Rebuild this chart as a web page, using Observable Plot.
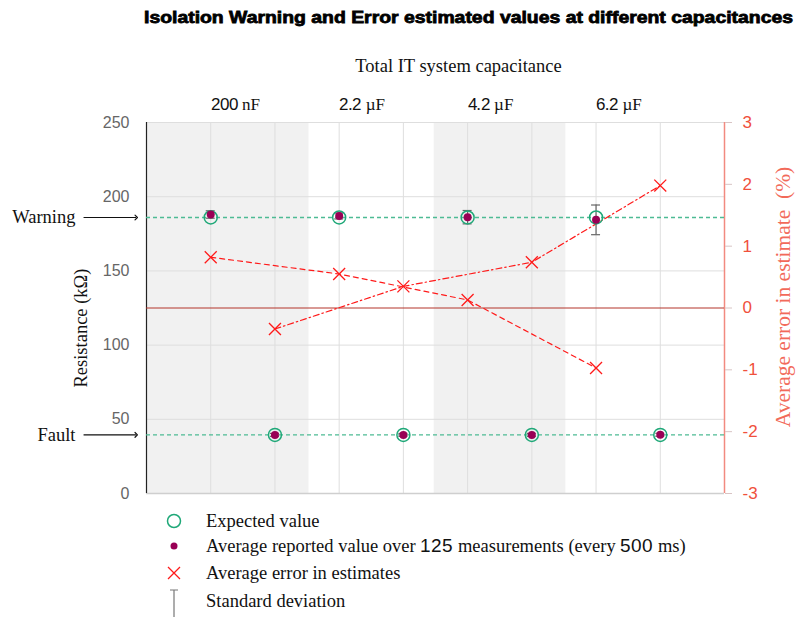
<!DOCTYPE html>
<html>
<head>
<meta charset="utf-8">
<script src="https://cdn.jsdelivr.net/npm/d3@7"></script>
<script src="https://cdn.jsdelivr.net/npm/@observablehq/plot@0.6"></script>
<style>
@font-face { font-family: "SerifMix"; src: local("Liberation Sans"), local("LiberationSans"); unicode-range: U+0030-0039; }
body { margin: 0; background: white; }
#wrap { position: relative; width: 796px; height: 617px; overflow: hidden; }
#chart { position: absolute; left: 0; top: 0; }
#title { position: absolute; left: 0; top: 0; overflow: visible; }
#legend { position: absolute; left: 0; top: 505px; }
</style>
</head>
<body>
<div id="wrap">
  <div id="chart"></div>
  <svg id="title" width="796" height="34"></svg>
  <svg id="legend" width="796" height="112"></svg>
</div>
<script>
// ---------- data ----------
const titleText = "Isolation Warning and Error estimated values at different capacitances";
const xTitle = "Total IT system capacitance";
const yTitle = "Resistance (kΩ)";
const y2Title = "Average error in estimate  (%)";

const groupLabels = ["200 nF", "2.2 µF", "4.2 µF", "6.2 µF"];
const groupFirst = [1, 3, 5, 7];
const groupShaded = [true, false, true, false];

const positions = [1, 2, 3, 4, 5, 6, 7, 8];
const level = ["Warning", "Fault", "Warning", "Fault", "Warning", "Fault", "Warning", "Fault"];
const expectedKOhm = [186, 39.5, 186, 39.5, 186, 39.5, 186, 39.5];
const reportedKOhm = [188, 39.5, 187, 39.5, 186.2, 39.5, 184.4, 39.6];
const stdDevKOhm = [2.5, 1, 2, 1, 4.5, 1, 10, 1];
const errorPct = [0.82, -0.34, 0.55, 0.35, 0.13, 0.74, -0.97, 1.98];

const thresholdNames = ["Warning", "Fault"];
const thresholdKOhm = [186, 39.5];

const leftTicks = [0, 50, 100, 150, 200, 250];
const rightTicks = [3, 2, 1, 0, -1, -2, -3];

const legendLabels = [
  "Expected value",
  "Average reported value over 125 measurements (every 500 ms)",
  "Average error in estimates",
  "Standard deviation"
];

// ---------- derived tables ----------
const toRes = e => 125 + e * 125 / 3;   // map % error onto resistance scale (±3% ↔ 0..250)
const rows = positions.map((p, i) => ({
  pos: p, level: level[i], expected: expectedKOhm[i], reported: reportedKOhm[i],
  sd: stdDevKOhm[i], err: errorPct[i]
}));
const groups = groupLabels.map((label, g) => ({label, first: groupFirst[g], shaded: groupShaded[g], g}));
const thresholds = thresholdNames.map((name, i) => ({name, value: thresholdKOhm[i]}));

const SERIF = "SerifMix, 'Liberation Serif', 'Times New Roman', serif";
const SANS = "'Liberation Sans', Arial, sans-serif";
const RED = "#ff1a1a";
const GREEN = "#1fa878";
const GREENLINE = "#4dbb94";
const PURPLE = "#990055";

const chart = Plot.plot({
  width: 796,
  height: 505,
  marginLeft: 146,
  marginRight: 72,
  marginTop: 122,
  marginBottom: 12,
  style: {background: "transparent", fontFamily: SANS, overflow: "visible"},
  x: {domain: [0, 9], axis: null},
  y: {domain: [0, 250], axis: null},
  marks: [
    // shaded capacitance groups
    Plot.rect(groups.filter(d => d.shaded), {
      x1: d => d.g === 0 ? 0 : d.first - 0.52,
      x2: d => d.first + 1.53,
      y1: 0, y2: 250, fill: "#f1f1f1"
    }),
    Plot.gridX(positions, {stroke: "#dedede", strokeOpacity: 1}),
    Plot.gridY(leftTicks.filter(t => t > 0), {stroke: "#dedede", strokeOpacity: 1}),
    Plot.ruleY([0], {stroke: "#cfcfcf", strokeWidth: 1.5}),
    Plot.ruleX([0], {stroke: "#222", strokeWidth: 1.2}),
    Plot.ruleX([9], {stroke: "#f28a80", strokeWidth: 1.5}),
    // zero error line
    Plot.ruleY([0], {y: d => toRes(d), stroke: "#b3342a", strokeWidth: 1}),
    // expected threshold lines
    Plot.ruleY(thresholds, {y: "value", stroke: GREENLINE, strokeWidth: 1.4, strokeDasharray: "4,3"}),
    // error lines
    Plot.line(rows.filter(d => d.level === "Warning"), {
      x: "pos", y: d => toRes(d.err), stroke: RED, strokeWidth: 1.2, strokeDasharray: "5,4"
    }),
    Plot.line(rows.filter(d => d.level === "Fault"), {
      x: "pos", y: d => toRes(d.err), stroke: RED, strokeWidth: 1.2, strokeDasharray: "6,3,1.5,3"
    }),
    // std deviation bars
    Plot.ruleX(rows, {x: "pos", y1: d => d.reported - d.sd, y2: d => d.reported + d.sd, stroke: "#666", strokeWidth: 1.2}),
    Plot.ruleY(rows, {y: d => d.reported + d.sd, x1: d => d.pos - 0.07, x2: d => d.pos + 0.07, stroke: "#666", strokeWidth: 1.2}),
    Plot.ruleY(rows, {y: d => d.reported - d.sd, x1: d => d.pos - 0.07, x2: d => d.pos + 0.07, stroke: "#666", strokeWidth: 1.2}),
    // expected circles and reported dots
    Plot.dot(rows, {x: "pos", y: "expected", r: 6.5, stroke: GREEN, strokeWidth: 1.5, fill: "none"}),
    Plot.dot(rows, {x: "pos", y: "reported", r: 4, fill: PURPLE}),
    // error crosses
    Plot.dot(rows, {x: "pos", y: d => toRes(d.err), symbol: "times", r: 5.5, stroke: RED, strokeWidth: 1.3}),
    // axes
    Plot.axisY(leftTicks, {anchor: "left", tickSize: 0, tickPadding: 17, fill: "#666", fontSize: 16, label: null, fontFamily: SANS}),
    Plot.axisY(rightTicks.map(toRes), {
      anchor: "right", tickSize: 7, tickPadding: 11, stroke: "#d8c4c4", fill: "#f0503c",
      fontSize: 17, label: null, fontFamily: SANS,
      tickFormat: v => String(Math.round((v - 125) * 3 / 125))
    }),
    // top capacitance labels
    Plot.text(groups, {x: "first", text: "label", frameAnchor: "top", dy: -13, textAnchor: "start",
      lineAnchor: "bottom", fontSize: 17, fontFamily: SERIF, fill: "#111"}),
    Plot.text([xTitle], {frameAnchor: "top", text: d => d, dx: 23, dy: -51, textAnchor: "middle", lineAnchor: "bottom",
      fontSize: 18.5, fontFamily: SERIF, fill: "#111"}),
    // axis titles
    Plot.text([yTitle], {frameAnchor: "left", text: d => d, rotate: -90, dx: -65, dy: 20,
      textAnchor: "middle", lineAnchor: "middle", fontSize: 18.5, fontFamily: SERIF, fill: "#111"}),
    Plot.text([y2Title], {frameAnchor: "right", text: d => d, rotate: -90, dx: 59, dy: -11,
      textAnchor: "middle", lineAnchor: "middle", fontSize: 21.5, fontFamily: SERIF, fill: "#f26a5a"}),
    // threshold annotations
    Plot.text(thresholds, {y: "value", text: "name", frameAnchor: "left", textAnchor: "end", dx: -71,
      lineAnchor: "middle", fontSize: 18.5, fontFamily: SERIF, fill: "#111"}),
    Plot.link(thresholds, {x1: -0.98, x2: -0.16, y1: "value", y2: "value", stroke: "#111",
      strokeWidth: 1.2, markerEnd: "arrow"})
  ]
});
document.getElementById("chart").appendChild(chart);

// ---------- title ----------
const ns = "http://www.w3.org/2000/svg";
const t = document.createElementNS(ns, "text");
t.setAttribute("x", 793); t.setAttribute("y", 22.5);
t.setAttribute("text-anchor", "end");
t.setAttribute("textLength", 649);
t.setAttribute("lengthAdjust", "spacingAndGlyphs");
t.setAttribute("font-family", "'Liberation Sans', Arial, sans-serif");
t.setAttribute("font-weight", "bold");
t.setAttribute("font-size", "17");
t.setAttribute("fill", "#000");
t.setAttribute("stroke", "#000");
t.setAttribute("stroke-width", "0.8");
t.textContent = titleText;
document.getElementById("title").appendChild(t);

// ---------- legend ----------
const lg = d3.select("#legend");
const rowY = [16, 41, 68, 96];
const sx = 174;
lg.append("circle").attr("cx", sx).attr("cy", rowY[0]).attr("r", 6.5)
  .attr("fill", "none").attr("stroke", GREEN).attr("stroke-width", 1.5);
lg.append("circle").attr("cx", sx).attr("cy", rowY[1]).attr("r", 3.5).attr("fill", PURPLE);
lg.append("path").attr("d", `M${sx-6},${rowY[2]-6}L${sx+6},${rowY[2]+6}M${sx-6},${rowY[2]+6}L${sx+6},${rowY[2]-6}`)
  .attr("stroke", RED).attr("stroke-width", 1.3);
lg.append("path").attr("d", `M${sx-4},${rowY[3]-11}L${sx+4},${rowY[3]-11}M${sx},${rowY[3]-11}L${sx},${rowY[3]+16}`)
  .attr("stroke", "#777").attr("stroke-width", 1.2).attr("fill", "none");
legendLabels.forEach((label, i) => {
  lg.append("text").attr("x", 206).attr("y", rowY[i] + 6)
    .attr("font-family", SERIF).attr("font-size", 18.5).attr("fill", "#111")
    .text(label);
});
</script>
</body>
</html>
